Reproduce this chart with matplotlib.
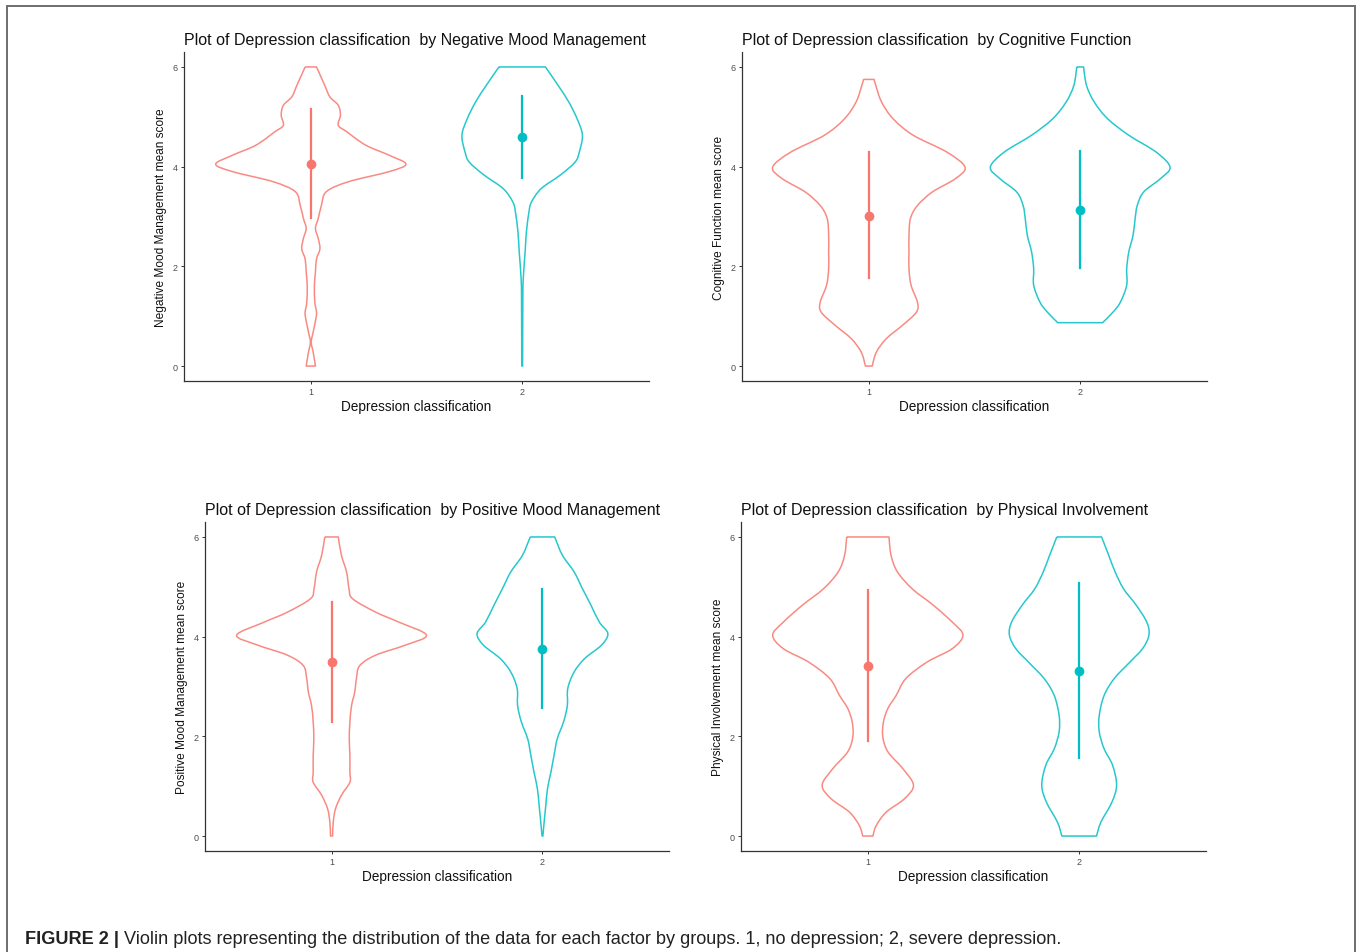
import matplotlib

matplotlib.use("Agg")
import matplotlib.pyplot as plt
from matplotlib import font_manager
from matplotlib.patches import Rectangle, PathPatch
from matplotlib.path import Path

# ---- data (score, violin half-width in x units) ----
groups = ["1", "2"]
colors = ["#F8766D", "#00BFC4"]

# Negative Mood Management
nmm1_y = [6.0, 5.63, 5.4, 5.23, 5.03, 4.83, 4.7, 4.43, 4.23, 4.05, 3.9, 3.7, 3.5,
          3.22, 2.96, 2.76, 2.56, 2.35, 2.15, 1.89, 1.62, 1.28, 1.08, 0.95, 0.68,
          0.48, 0.28, 0.0]
nmm1_w = [0.027, 0.066, 0.09, 0.13, 0.14, 0.13, 0.17, 0.26, 0.37, 0.45, 0.37, 0.18,
          0.074, 0.05, 0.035, 0.022, 0.035, 0.043, 0.027, 0.022, 0.017, 0.019,
          0.027, 0.024, 0.011, 0.002, 0.011, 0.022]
nmm2_y = [6.0, 5.63, 5.3, 4.96, 4.63, 4.29, 4.09, 3.83, 3.56, 3.29, 3.09, 2.69,
          2.29, 1.75, 1.28, 0.0]
nmm2_w = [0.11, 0.17, 0.22, 0.26, 0.285, 0.27, 0.25, 0.18, 0.09, 0.044, 0.032,
          0.02, 0.014, 0.005, 0.003, 0.002]

# Cognitive Function
cf1_y = [5.75, 5.63, 5.3, 4.96, 4.63, 4.29, 3.99, 3.76, 3.49, 3.22, 2.96, 2.62,
         2.29, 1.95, 1.62, 1.28, 1.08, 0.82, 0.55, 0.28, 0.0]
cf1_w = [0.025, 0.033, 0.06, 0.115, 0.21, 0.37, 0.455, 0.41, 0.3, 0.23, 0.197,
         0.19, 0.19, 0.19, 0.2, 0.23, 0.225, 0.16, 0.083, 0.036, 0.016]
cf2_y = [6.0, 5.63, 5.3, 4.96, 4.63, 4.29, 3.99, 3.76, 3.49, 3.22, 2.96, 2.62,
         2.29, 1.95, 1.62, 1.28, 1.08, 0.87]
cf2_w = [0.016, 0.03, 0.066, 0.13, 0.23, 0.36, 0.425, 0.38, 0.3, 0.27, 0.26, 0.25,
         0.23, 0.22, 0.22, 0.19, 0.155, 0.106]

# Positive Mood Management
pmm1_y = [6.0, 5.63, 5.3, 4.96, 4.76, 4.49, 4.29, 4.03, 3.83, 3.63, 3.42, 3.16,
          2.89, 2.62, 2.29, 1.95, 1.62, 1.28, 1.08, 0.82, 0.55, 0.28, 0.0]
pmm1_w = [0.032, 0.047, 0.071, 0.083, 0.1, 0.21, 0.32, 0.45, 0.35, 0.21, 0.134,
          0.118, 0.11, 0.095, 0.087, 0.084, 0.087, 0.087, 0.087, 0.047, 0.019,
          0.008, 0.005]
pmm2_y = [6.0, 5.63, 5.3, 4.96, 4.63, 4.29, 4.06, 3.83, 3.56, 3.29, 2.96, 2.62,
          2.29, 1.95, 1.62, 1.28, 0.95, 0.62, 0.28, 0.0]
pmm2_w = [0.058, 0.095, 0.15, 0.19, 0.23, 0.27, 0.31, 0.28, 0.2, 0.15, 0.12, 0.118,
          0.1, 0.07, 0.055, 0.04, 0.024, 0.016, 0.008, 0.002]

# Physical Involvement
pi1_y = [6.0, 5.63, 5.3, 4.96, 4.63, 4.29, 4.03, 3.76, 3.49, 3.16, 2.82, 2.56,
         2.29, 1.99, 1.69, 1.35, 1.02, 0.75, 0.48, 0.21, 0.0]
pi1_w = [0.10, 0.11, 0.14, 0.21, 0.31, 0.40, 0.45, 0.40, 0.28, 0.18, 0.134, 0.095,
         0.074, 0.071, 0.095, 0.166, 0.216, 0.174, 0.087, 0.04, 0.024]
pi2_y = [6.0, 5.63, 5.3, 4.96, 4.63, 4.29, 4.03, 3.76, 3.49, 3.16, 2.82, 2.42,
         2.09, 1.75, 1.42, 1.02, 0.68, 0.28, 0.0]
pi2_w = [0.106, 0.14, 0.17, 0.21, 0.27, 0.32, 0.33, 0.30, 0.24, 0.166, 0.118,
         0.095, 0.095, 0.118, 0.158, 0.177, 0.155, 0.103, 0.082]

# mean and mean +/- sd per group
nmm_mean = [4.05, 4.6]
nmm_lo = [2.96, 3.78]
nmm_hi = [5.16, 5.42]
cf_mean = [3.01, 3.14]
cf_lo = [1.77, 1.97]
cf_hi = [4.29, 4.31]
pmm_mean = [3.49, 3.75]
pmm_lo = [2.29, 2.56]
pmm_hi = [4.70, 4.96]
pi_mean = [3.42, 3.32]
pi_lo = [1.91, 1.57]
pi_hi = [4.93, 5.08]

factors = ["Negative Mood Management", "Cognitive Function",
           "Positive Mood Management", "Physical Involvement"]

panels = [
    ((nmm1_y, nmm1_w), (nmm2_y, nmm2_w), nmm_mean, nmm_lo, nmm_hi),
    ((cf1_y, cf1_w), (cf2_y, cf2_w), cf_mean, cf_lo, cf_hi),
    ((pmm1_y, pmm1_w), (pmm2_y, pmm2_w), pmm_mean, pmm_lo, pmm_hi),
    ((pi1_y, pi1_w), (pi2_y, pi2_w), pi_mean, pi_lo, pi_hi),
]

# axes rectangles in figure pixels: left, bottom(from top), right, top
W, H = 1358, 953
boxes = [(184, 382, 649, 53), (742, 382, 1207, 53),
         (205, 852, 669, 523), (741, 852, 1206, 523)]


def smooth_segments(pts):
    """Catmull-Rom through pts -> list of (ctrl1, ctrl2, end) bezier triples."""
    out = []
    n = len(pts)
    for i in range(n - 1):
        p0 = pts[max(i - 1, 0)]
        p1 = pts[i]
        p2 = pts[i + 1]
        p3 = pts[min(i + 2, n - 1)]
        c1 = (p1[0] + (p2[0] - p0[0]) / 6, p1[1] + (p2[1] - p0[1]) / 6)
        c2 = (p2[0] - (p3[0] - p1[0]) / 6, p2[1] - (p3[1] - p1[1]) / 6)
        out.append((c1, c2, p2))
    return out


def violin_path(center, ys, ws):
    right = [(center + w, y) for y, w in zip(ys, ws)]
    left = [(center - w, y) for y, w in zip(ys, ws)][::-1]
    verts = [left[-1], right[0]]
    codes = [Path.MOVETO, Path.LINETO]
    for c1, c2, p in smooth_segments(right):
        verts += [c1, c2, p]
        codes += [Path.CURVE4] * 3
    verts.append(left[0])
    codes.append(Path.LINETO)
    for c1, c2, p in smooth_segments(left):
        verts += [c1, c2, p]
        codes += [Path.CURVE4] * 3
    return Path(verts, codes)


installed = {f.name for f in font_manager.fontManager.ttflist}
base_font = "Liberation Sans" if "Liberation Sans" in installed else "DejaVu Sans"
plt.rcParams["font.family"] = [base_font, "DejaVu Sans"]

fig = plt.figure(figsize=(W / 100, H / 100), dpi=100)
fig.patch.set_facecolor("white")

for (v1, v2, means, lo, hi), name, (l, b, r, t) in zip(panels, factors, boxes):
    ax = fig.add_axes([l / W, 1 - b / H, (r - l) / W, (b - t) / H])
    for i, ((ys, ws), col) in enumerate(zip([v1, v2], colors)):
        c = i + 1
        ax.add_patch(PathPatch(violin_path(c, ys, ws), fill=False, edgecolor=col,
                               lw=1.1, alpha=0.85, joinstyle="round"))
        ax.plot([c, c], [lo[i], hi[i]], color=col, lw=1.6)
        ax.plot(c, means[i], "o", color=col, ms=6, mec=col)

    ax.set_xlim(0.4, 2.6)
    ax.set_ylim(-0.3, 6.3)
    ax.set_xticks([1, 2])
    ax.set_xticklabels(groups)
    ax.set_yticks([0, 2, 4, 6])
    for s in ["top", "right"]:
        ax.spines[s].set_visible(False)
    for s in ["left", "bottom"]:
        ax.spines[s].set_color("#333333")
        ax.spines[s].set_linewidth(0.9)
    ax.tick_params(length=2.5, width=0.7, color="#333333", labelsize=6.5,
                   labelcolor="#4D4D4D", pad=2)
    ax.set_title(f"Plot of Depression classification  by {name}", loc="left",
                 fontsize=11.5, pad=6, color="#111111")
    ax.set_xlabel("Depression classification", fontsize=9.8, labelpad=2,
                  color="#111111")
    ax.set_ylabel(f"{name} mean score", fontsize=8.6, labelpad=4,
                  color="#111111")

# figure frame
fig.add_artist(Rectangle((7 / W, 1 - 970 / H), (1355 - 7) / W, (970 - 7) / H,
                         transform=fig.transFigure, fill=False,
                         edgecolor="#6E6E6E", lw=1.4, clip_on=False))

cap_size = 13.1
t1 = fig.text(25 / W, 1 - 940 / H, "FIGURE 2 |", fontsize=cap_size,
              fontweight="bold", va="center", ha="left", color="#222222")
fig.add_artist(plt.Annotation(
    " Violin plots representing the distribution of the data for each factor by "
    "groups. 1, no depression; 2, severe depression.",
    xy=(1, 0.5), xycoords=t1, va="center", ha="left", fontsize=cap_size,
    color="#222222"))

fig.savefig("out.png", dpi=100)
